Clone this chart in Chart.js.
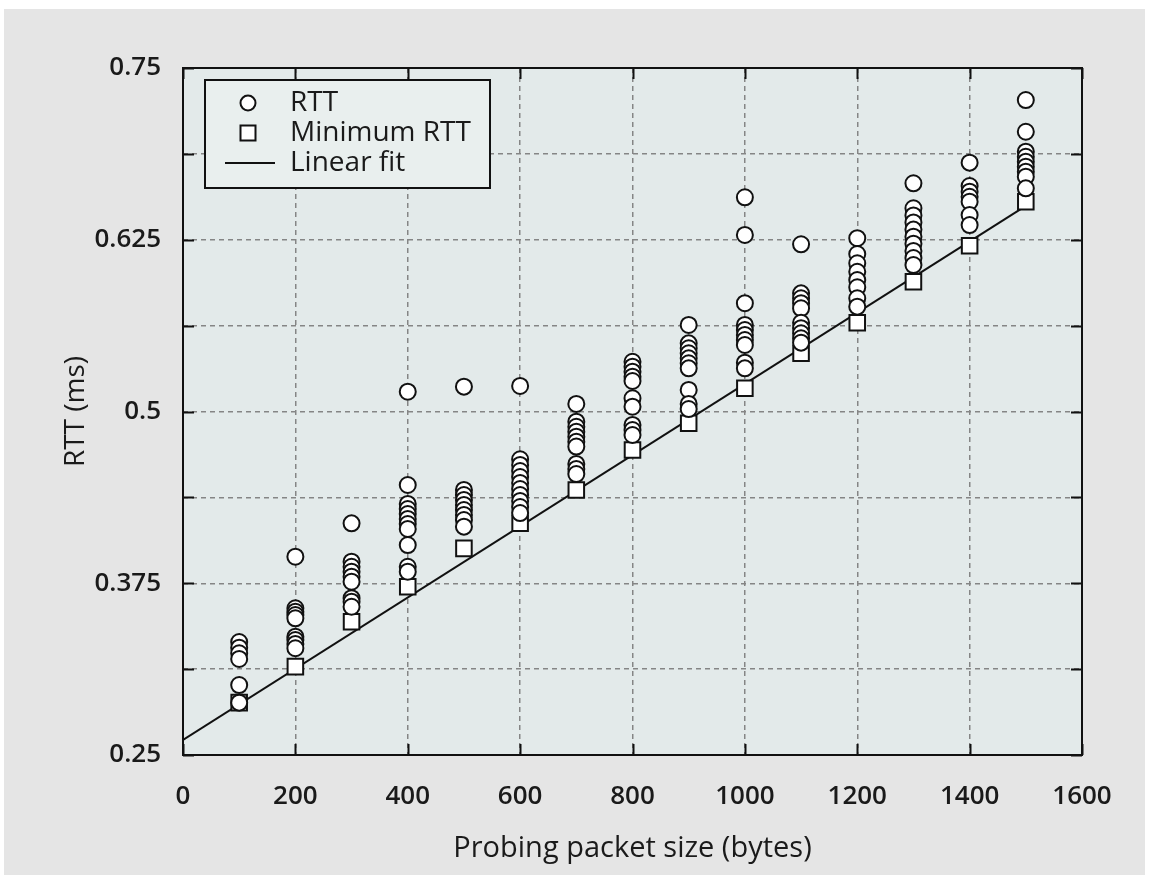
<!DOCTYPE html>
<html><head><meta charset="utf-8">
<script src="https://cdn.jsdelivr.net/npm/chart.js@4.4.0/dist/chart.umd.min.js"></script>
<style>
html,body{margin:0;padding:0;background:#fff;}
#bg{position:absolute;left:4px;top:9px;width:1141px;height:866px;background:#e5e5e5;}
#wrap{position:absolute;left:0;top:0;width:1149px;height:878px;}
</style></head><body>
<div id="bg"></div>
<div id="wrap"><canvas id="c" width="1149" height="878"></canvas></div>
<script>
// Probing packet sizes (bytes)
const packetSizes = [100,200,300,400,500,600,700,800,900,1000,1100,1200,1300,1400,1500];
// RTT samples (ms) per packet size
const rttSamples = [
  [0.3322,0.3281,0.3240,0.3199,0.3009,0.2881],
  [0.3943,0.3568,0.3543,0.3519,0.3495,0.3361,0.3337,0.3308,0.3277],
  [0.4186,0.3907,0.3870,0.3834,0.3798,0.3761,0.3641,0.3616,0.3579],
  [0.5144,0.4465,0.4327,0.4290,0.4254,0.4218,0.4181,0.4145,0.4028,0.3870,0.3834],
  [0.5181,0.4429,0.4392,0.4356,0.4320,0.4283,0.4247,0.4210,0.4162],
  [0.5186,0.4652,0.4611,0.4567,0.4523,0.4480,0.4436,0.4392,0.4349,0.4305,0.4261],
  [0.5055,0.4926,0.4889,0.4853,0.4817,0.4780,0.4745,0.4618,0.4582,0.4545],
  [0.5362,0.5326,0.5290,0.5253,0.5222,0.5096,0.5035,0.4902,0.4865,0.4829],
  [0.5630,0.5496,0.5460,0.5424,0.5387,0.5351,0.5314,0.5157,0.5055,0.5018],
  [0.6559,0.6285,0.5788,0.5630,0.5593,0.5557,0.5520,0.5484,0.5355,0.5314],
  [0.6217,0.5860,0.5824,0.5788,0.5751,0.5646,0.5606,0.5569,0.5533,0.5501],
  [0.6261,0.6146,0.6079,0.6017,0.5957,0.5904,0.5824,0.5763],
  [0.6661,0.6479,0.6427,0.6376,0.6324,0.6272,0.6221,0.6169,0.6117,0.6066],
  [0.6811,0.6641,0.6600,0.6563,0.6527,0.6430,0.6357],
  [0.7267,0.7036,0.6891,0.6854,0.6818,0.6782,0.6745,0.6709,0.6624]
];
// Minimum RTT (ms) per packet size
const minRtt = [0.2881,0.3143,0.3470,0.3725,0.4004,0.4186,0.4429,0.4720,0.4914,0.5169,0.5424,0.5646,0.5945,0.6207,0.6527];
// Linear fit end points
const fitX = [0,1500];
const fitY = [0.2609,0.6497];
// Axis labels
const yLabelValues = [0.25,0.375,0.5,0.625,0.75];
const seriesNames = ['RTT','Minimum RTT','Linear fit'];

const FONT = "'Open Sans', 'DejaVu Sans', sans-serif";
const TXT = '#1a1a1a';

const rttPoints = [];
packetSizes.forEach((s,i)=>rttSamples[i].forEach(v=>rttPoints.push({x:s,y:v})));
const minPoints = packetSizes.map((s,i)=>({x:s,y:minRtt[i]}));
const fitPoints = fitX.map((x,i)=>({x:x,y:fitY[i]}));

const framePlugin = {
  id:'frame',
  beforeDraw(chart){
    const {ctx, chartArea:a} = chart;
    ctx.save(); ctx.fillStyle='#e3eaea';
    ctx.fillRect(a.left,a.top,a.right-a.left,a.bottom-a.top);
    ctx.restore();
  },
  afterDraw(chart){
    const {ctx, chartArea:a, scales} = chart;
    ctx.save();
    ctx.strokeStyle='#111'; ctx.lineWidth=2;
    const tl=11;
    ctx.beginPath();
    scales.x.ticks.forEach(t=>{
      const px=Math.round(scales.x.getPixelForValue(t.value))+0.5;
      ctx.moveTo(px,a.bottom); ctx.lineTo(px,a.bottom-tl);
      ctx.moveTo(px,a.top); ctx.lineTo(px,a.top+tl);
    });
    scales.y.ticks.forEach(t=>{
      const py=Math.round(scales.y.getPixelForValue(t.value))+0.5;
      ctx.moveTo(a.left,py); ctx.lineTo(a.left+tl,py);
      ctx.moveTo(a.right,py); ctx.lineTo(a.right-tl,py);
    });
    ctx.stroke();
    ctx.strokeRect(a.left,a.top,a.right-a.left,a.bottom-a.top);
    // legend
    const lx=a.left+22, ly=a.top+12, lw=285, lh=108;
    ctx.fillStyle='#e9efee';
    ctx.fillRect(lx,ly,lw,lh);
    ctx.strokeRect(lx,ly,lw,lh);
    const mx=lx+43;
    ctx.fillStyle='#fff'; ctx.lineWidth=2; ctx.strokeStyle='#111';
    ctx.beginPath(); ctx.arc(mx,ly+23,7.5,0,Math.PI*2); ctx.fill(); ctx.stroke();
    ctx.beginPath(); ctx.rect(mx-7.5,ly+53-7.5,15,15); ctx.fill(); ctx.stroke();
    ctx.beginPath(); ctx.moveTo(lx+20,ly+83); ctx.lineTo(lx+70,ly+83); ctx.stroke();
    ctx.fillStyle=TXT; ctx.font="28px "+FONT; ctx.textBaseline='middle'; ctx.textAlign='left';
    seriesNames.forEach((n,i)=>ctx.fillText(n,lx+85,ly+23+30*i));
    ctx.restore();
  }
};

new Chart(document.getElementById('c'),{
  type:'scatter',
  data:{datasets:[
    {label:seriesNames[0],data:rttPoints,pointStyle:'circle',pointRadius:8,pointHoverRadius:8,
     pointBackgroundColor:'#fff',pointBorderColor:'#111',pointBorderWidth:2,showLine:false},
    {label:seriesNames[1],data:minPoints,pointStyle:'rect',pointRadius:11,pointHoverRadius:11,
     pointBackgroundColor:'#fff',pointBorderColor:'#111',pointBorderWidth:2,showLine:false},
    {label:seriesNames[2],data:fitPoints,showLine:true,pointRadius:0,borderColor:'#111',borderWidth:2,fill:false}
  ]},
  options:{
    responsive:false, animation:false,
    layout:{padding:{top:68,right:67,left:59,bottom:12}},
    plugins:{legend:{display:false},tooltip:{enabled:false}},
    scales:{
      x:{type:'linear',min:0,max:1600,
        ticks:{stepSize:200,padding:26,color:TXT,font:{family:FONT,size:26,weight:'600'},maxRotation:0,autoSkip:false,
          callback:(v)=>String(v)},
        grid:{color:'#858585',lineWidth:1.5,drawTicks:false},
        border:{display:false,dash:[5,4]},
        title:{display:true,text:'Probing packet size (bytes)',color:TXT,font:{family:FONT,size:29},padding:0},
        afterFit(s){s.height=111;}
      },
      y:{type:'linear',min:0.25,max:0.75,
        ticks:{stepSize:0.0625,padding:22,color:TXT,font:{family:FONT,size:26,weight:'600'},autoSkip:false,
          callback:(v)=>{const m=yLabelValues.find(q=>Math.abs(q-v)<1e-9);return m===undefined?'':String(m);}},
        grid:{color:'#858585',lineWidth:1.5,drawTicks:false},
        border:{display:false,dash:[5,4]},
        title:{display:true,text:'RTT (ms)',color:TXT,font:{family:FONT,size:28},padding:0},
        afterFit(s){s.width=124;}
      }
    }
  },
  plugins:[framePlugin]
});
</script>
</body></html>
